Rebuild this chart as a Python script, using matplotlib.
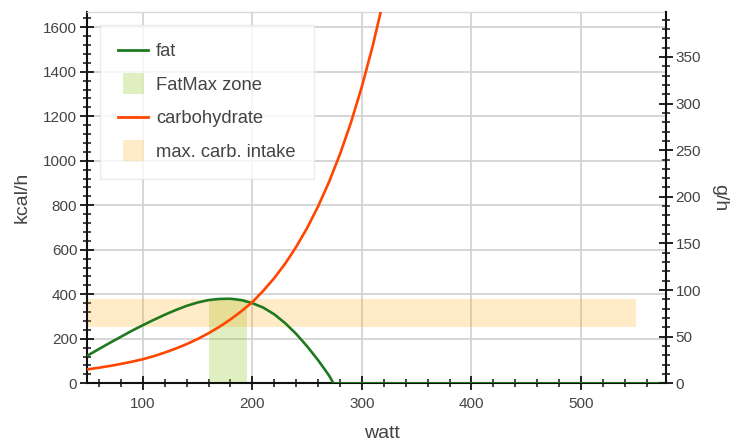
import matplotlib
matplotlib.use("Agg")
import matplotlib.pyplot as plt
from matplotlib.lines import Line2D
from matplotlib.patches import Patch, Rectangle
from matplotlib.legend_handler import HandlerPatch
from matplotlib.ticker import MultipleLocator

plt.rcParams['font.family'] = ['Liberation Sans', 'DejaVu Sans']

# ---- data ----
fat_watt = [50, 60, 70, 80, 90, 100, 110, 120, 130, 140, 150, 160, 170, 180,
            190, 200, 210, 220, 230, 240, 250, 260, 270, 274, 580]
fat_kcal = [126, 154, 182, 209, 236, 261, 285, 308, 329, 348, 363, 374, 379, 380,
            374, 360, 340, 310, 270, 222, 166, 104, 35, 0, 0]

carb_watt = [50, 60, 70, 80, 90, 100, 110, 120, 130, 140, 150, 160, 170, 180,
             190, 200, 210, 220, 230, 240, 250, 260, 270, 280, 290, 300, 310, 320, 330]
carb_kcal = [63, 70, 78, 87, 97, 108, 122, 138, 156, 176, 199, 225, 254, 287,
             324, 365, 416, 473, 538, 613, 698, 795, 905, 1030, 1172, 1334, 1519, 1729, 1968]

fatmax_zone = [160, 195]          # watt
carb_intake_gh = [60, 90]         # g/h
carb_intake_watt = [50, 550]      # watt
kcal_per_g = 4.19

x_range = [48.8, 577.6]
y_range = [0, 1670]

legend_labels = ["fat", "FatMax zone", "carbohydrate", "max. carb. intake"]

# ---- styles ----
c_fat = '#1f7a1f'
c_carb = '#ff4500'
c_zone = '#9acd32'
c_band = '#ffa500'
txt = '#444444'

fig = plt.figure(figsize=(7.45, 4.46), dpi=100)
ax = fig.add_axes([0.1164, 0.1406, 0.7776, 0.8332])

# bands
ax.fill_between(fatmax_zone, 0, max(fat_kcal), color=c_zone, alpha=0.3, lw=0, zorder=1)
ax.fill_between(carb_intake_watt, carb_intake_gh[0] * kcal_per_g, carb_intake_gh[1] * kcal_per_g,
                color=c_band, alpha=0.22, lw=0, zorder=1.1)

ax.plot(fat_watt, fat_kcal, color=c_fat, lw=1.9, zorder=3)
ax.plot(carb_watt, carb_kcal, color=c_carb, lw=1.9, zorder=3)

ax.set_xlim(*x_range)
ax.set_ylim(*y_range)

ax.xaxis.set_major_locator(MultipleLocator(100))
ax.xaxis.set_minor_locator(MultipleLocator(20))
ax.yaxis.set_major_locator(MultipleLocator(200))
ax.yaxis.set_minor_locator(MultipleLocator(40))

ax.grid(True, which='major', color='#d0d0d0', lw=1.2, zorder=0)
ax.set_axisbelow(True)

for s in ['left', 'bottom']:
    ax.spines[s].set_color('#111111')
    ax.spines[s].set_linewidth(1.5)
ax.spines['right'].set_visible(False)
ax.spines['top'].set_color('#d9d9d9')
ax.spines['top'].set_linewidth(1.0)

ax.tick_params(which='major', direction='inout', length=9.5, width=1.3, color='#111111',
               labelsize=11, labelcolor=txt, pad=2)
ax.tick_params(which='minor', direction='inout', length=5.5, width=1.1, color='#111111')
ax.tick_params(axis='x', which='major', pad=5)

ax.set_xlabel("watt", fontsize=14, color=txt)
ax.set_ylabel("kcal/h", fontsize=14, color=txt)
ax.xaxis.set_label_coords(0.51, -0.112)
ax.yaxis.set_label_coords(-0.097, 0.5)

# right axis (g/h)
ax2 = ax.twinx()
ax2.set_ylim(y_range[0] / kcal_per_g, y_range[1] / kcal_per_g)
ax2.yaxis.set_major_locator(MultipleLocator(50))
ax2.yaxis.set_minor_locator(MultipleLocator(10))
for s in ['left', 'top', 'bottom']:
    ax2.spines[s].set_visible(False)
ax2.spines['right'].set_color('#111111')
ax2.spines['right'].set_linewidth(1.5)
ax2.tick_params(which='major', direction='inout', length=9.5, width=1.3, color='#111111',
                labelsize=11, labelcolor=txt, pad=2)
ax2.tick_params(which='minor', direction='inout', length=5.5, width=1.1, color='#111111')
ax2.set_ylabel("g/h", fontsize=14, color=txt, rotation=-90)
ax2.yaxis.set_label_coords(1.107, 0.5)


def small_rect(legend, orig_handle, xdescent, ydescent, width, height, fontsize):
    return Rectangle((-xdescent + 3, -ydescent - 3), width - 6, height + 6)


handles = [
    Line2D([], [], color=c_fat, lw=2),
    Patch(facecolor=c_zone, alpha=0.3, lw=0),
    Line2D([], [], color=c_carb, lw=2),
    Patch(facecolor=c_band, alpha=0.22, lw=0),
]
leg = ax.legend(handles, legend_labels, loc='upper left', bbox_to_anchor=(0.023, 0.964),
                borderaxespad=0, fontsize=13.2, frameon=True, fancybox=False,
                handlelength=1.6, handletextpad=0.45, labelspacing=0.9, borderpad=1.0,
                handler_map={Patch: HandlerPatch(patch_func=small_rect)})
leg.get_frame().set_facecolor('white')
leg.get_frame().set_alpha(0.8)
leg.get_frame().set_edgecolor('#e6e6e6')
leg.get_frame().set_linewidth(1.0)
for t in leg.get_texts():
    t.set_color(txt)
leg.set_zorder(5)

fig.savefig("out.png", dpi=100)
